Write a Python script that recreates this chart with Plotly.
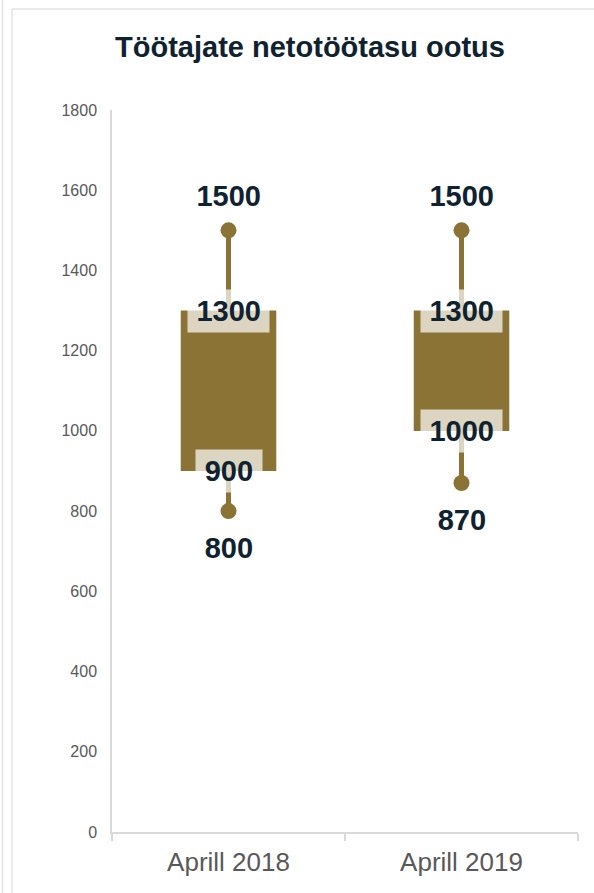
import plotly.graph_objects as go

categories = ["Aprill 2018", "Aprill 2019"]
min_vals = [800, 870]
q1_vals = [900, 1000]
q3_vals = [1300, 1300]
max_vals = [1500, 1500]
y_ticks = [0, 200, 400, 600, 800, 1000, 1200, 1400, 1600, 1800]

BROWN = "#8B7335"
TEXT = "#0E2230"
GRAY = "#595959"
LINE = "#D9D9D9"

W, H = 594, 893
L, R, T, B = 112, 16, 110, 61

fig = go.Figure()

fig.add_trace(go.Bar(
    x=categories, y=[b - a for a, b in zip(q1_vals, q3_vals)], base=q1_vals,
    width=0.41, marker=dict(color=BROWN, line=dict(width=0)),
    hoverinfo="skip", showlegend=False,
))

wx, wy = [], []
for c, lo, a, b, hi in zip(categories, min_vals, q1_vals, q3_vals, max_vals):
    wx += [c, c, None, c, c, None]
    wy += [b, hi, None, a, lo, None]
fig.add_trace(go.Scatter(
    x=wx, y=wy, mode="lines", line=dict(color=BROWN, width=5),
    hoverinfo="skip", showlegend=False,
))
fig.add_trace(go.Scatter(
    x=categories + categories, y=max_vals + min_vals, mode="markers",
    marker=dict(color=BROWN, size=16), hoverinfo="skip", showlegend=False,
))

def label(c, v, shift):
    s = str(v)
    fig.add_annotation(
        x=c, y=v, text="<b>%s</b>" % s, showarrow=False, yshift=shift,
        font=dict(family="Liberation Sans, Arial, sans-serif", size=29, color=TEXT),
        bgcolor="rgba(255,255,255,0.7)", borderpad=0,
        width=15.6 * len(s) + 19, height=42, xanchor="center", yanchor="middle",
    )

for c, lo, a, b, hi in zip(categories, min_vals, q1_vals, q3_vals, max_vals):
    label(c, hi, 34)
    label(c, b, 0)
    label(c, a, 0)
    label(c, lo, -37)

# card border decoration
def px_x(p):
    return (p - L) / (W - L - R)
def px_y(p):
    return 1 - (p - T) / (H - T - B)

fig.add_shape(type="line", xref="paper", yref="paper", x0=px_x(12), x1=px_x(600), y0=px_y(9), y1=px_y(9),
              line=dict(color="#E3E3E3", width=1.5))
fig.add_shape(type="line", xref="paper", yref="paper", x0=px_x(12), x1=px_x(12), y0=px_y(9), y1=px_y(900),
              line=dict(color="#E3E3E3", width=1.5))
fig.add_shape(type="line", xref="paper", yref="paper", x0=px_x(2.5), x1=px_x(2.5), y0=px_y(-5), y1=px_y(900),
              line=dict(color="#E3E3E3", width=1.5))

fig.update_layout(
    width=W, height=H,
    margin=dict(l=L, r=R, t=T, b=B),
    paper_bgcolor="white", plot_bgcolor="white",
    font=dict(family="Liberation Sans, Arial, sans-serif"),
    title=dict(text="<b>Töötajate netotöötasu ootus</b>", x=310 / W, xanchor="center",
               y=1 - 47 / H, yanchor="middle", yref="container",
               font=dict(size=29, color=TEXT)),
    showlegend=False,
    xaxis=dict(type="category", range=[-0.5, 1.5], tickson="boundaries", ticks="outside",
               ticklen=7, tickcolor=LINE, tickwidth=1.5, showline=True, linecolor=LINE, linewidth=1.5,
               showgrid=False, zeroline=False, tickfont=dict(size=26, color=GRAY),
               ticklabelstandoff=6, fixedrange=True),
    yaxis=dict(range=[0, 1800], tickvals=y_ticks, showline=True, linecolor=LINE, linewidth=1.5,
               showgrid=False, zeroline=False, ticks="", tickfont=dict(size=16, color=GRAY),
               ticklabelstandoff=10, fixedrange=True),
)

fig.write_html("out.html", config={"displayModeBar": False},
               post_script="document.body.style.margin='0';document.body.style.overflow='hidden';")
